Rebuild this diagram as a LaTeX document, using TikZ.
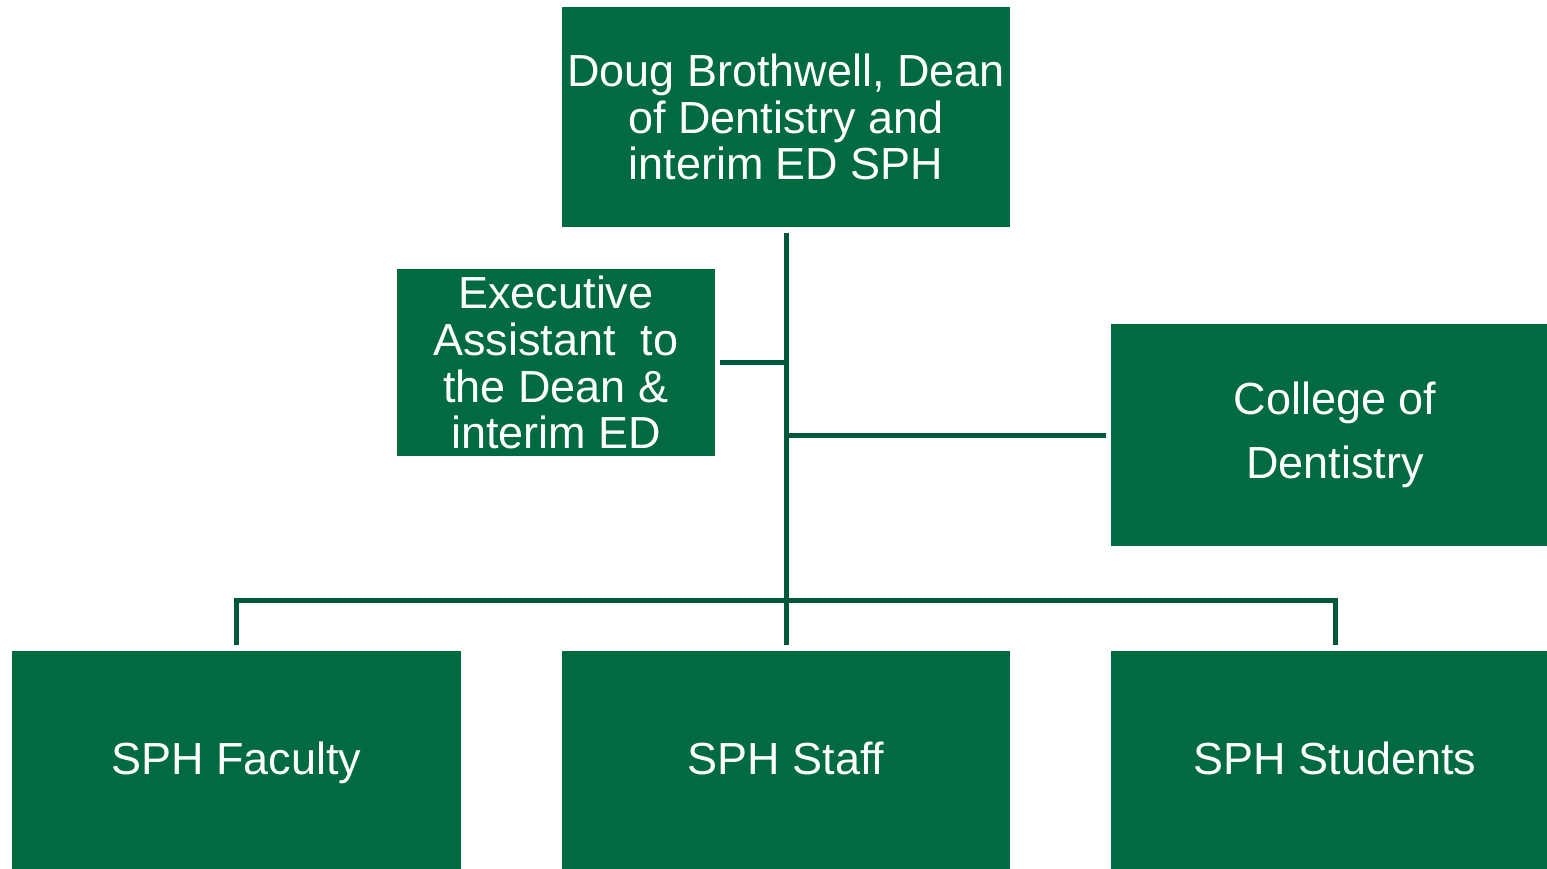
\documentclass[tikz,border=0pt]{standalone}
\usepackage{fontspec}
\setmainfont{Liberation Sans}
\usetikzlibrary{positioning,calc}
\definecolor{boxgreen}{HTML}{006A40}
\definecolor{linegreen}{HTML}{00583A}

\begin{document}
\begin{tikzpicture}[
  orgbox/.style={fill=boxgreen, text=white, align=center, inner sep=0pt,
    minimum width=8.96cm, minimum height=4.4cm,
    font=\fontsize{25.6}{26.7}\selectfont},
  unitbox/.style={orgbox, text height=0.72cm, text depth=0.2cm},
  orgline/.style={draw=linegreen, line width=0.1cm}
]
\clip (0,0) rectangle (30.94,-17.38);

% boxes
\node[orgbox] (dean) at (15.72,-2.34) {Doug Brothwell, Dean\\of Dentistry and\\interim ED SPH};
\node[orgbox, minimum width=6.36cm, minimum height=3.74cm] (assistant) at (11.12,-7.25)
  {Executive\\Assistant~ to\\the Dean \&\\interim ED};
\node[orgbox, minimum height=4.44cm, font=\fontsize{25.6}{36.4}\selectfont] (college) at (26.70,-8.70)
  {College of\\Dentistry};
\node[unitbox] (faculty) at (4.73,-15.22) {SPH Faculty};
\node[unitbox] (staff) at (15.72,-15.22) {SPH Staff};
\node[unitbox] (students) at (26.70,-15.22) {SPH Students};

% connectors
\coordinate (trunktop) at ([yshift=-0.12cm]dean.south);
\coordinate (trunkend) at ([yshift=0.12cm]staff.north);
\coordinate (bus) at (15.72,-12.0);
\draw[orgline] (trunktop) -- (trunkend);
\draw[orgline] ([xshift=0.1cm]assistant.east) -- (assistant.east -| trunktop);
\draw[orgline] ([xshift=-0.1cm]college.west) -- (college.west -| trunktop);
\draw[orgline] ([yshift=0.12cm]faculty.north) |- (bus) -| ([yshift=0.12cm]students.north);
\end{tikzpicture}
\end{document}
